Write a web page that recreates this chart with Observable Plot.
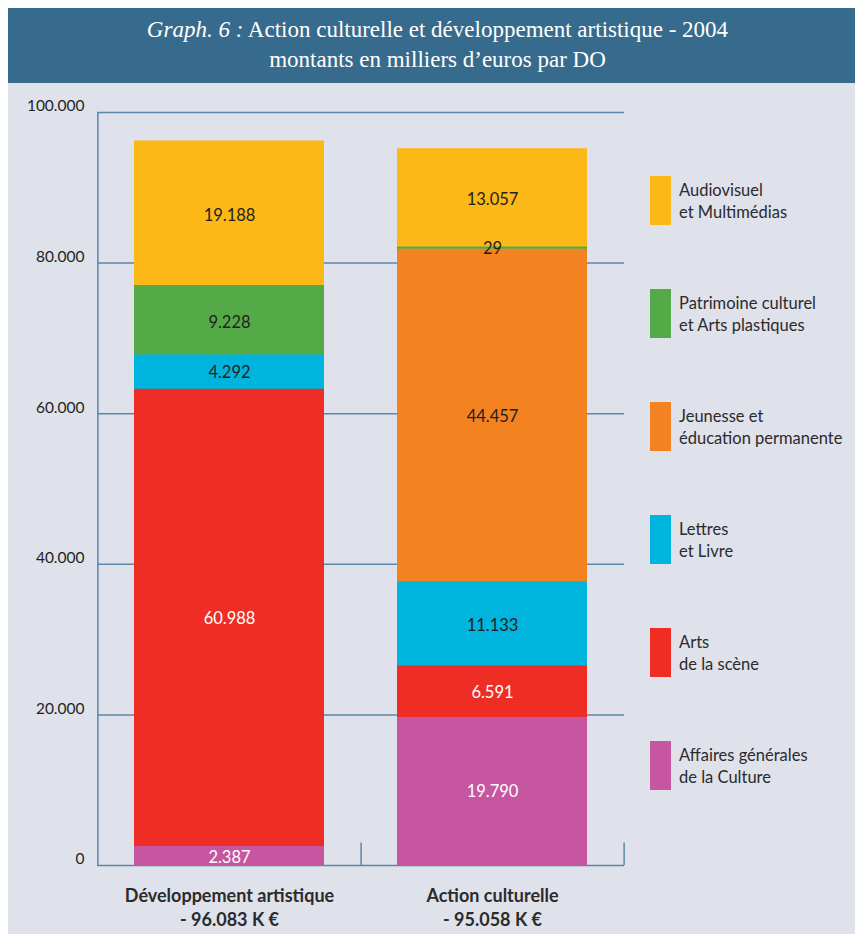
<!DOCTYPE html>
<html>
<head>
<meta charset="utf-8">
<script src="https://cdn.jsdelivr.net/npm/d3@7"></script>
<script src="https://cdn.jsdelivr.net/npm/@observablehq/plot@0.6"></script>
<style>
  html, body { margin: 0; padding: 0; background: #ffffff; }
  #panel { position: absolute; left: 8px; top: 8px; width: 847px; height: 926px; background: #dfe1eb; overflow: hidden; }
  #header { position: absolute; left: 0; top: 0; width: 847px; height: 75px; background: #376b8d; color: #fff;
            font-family: "Liberation Serif", "DejaVu Serif", serif; font-size: 23px; line-height: 30px;
            text-align: center; box-sizing: border-box; padding-top: 7px; padding-left: 12px; }
  #header i { font-style: italic; }
  #chart { position: absolute; left: 0; top: 75px; }
  #legend { position: absolute; left: 0; top: 0; }
  .item { position: absolute; left: 642px; }
  .sw { position: absolute; left: 0; top: 0; width: 21px; height: 49px; }
  .lab { position: absolute; left: 29px; top: 3px; white-space: nowrap; font-family: Lato, "Open Sans", sans-serif;
         font-size: 16.5px; line-height: 22px; color: #2b2b2b; }
</style>
</head>
<body>
<div id="panel">
  <div id="header"><i>Graph. 6 :</i> Action culturelle et développement artistique - 2004<br>montants en milliers d’euros par DO</div>
  <div id="chart"></div>
  <div id="legend"></div>
</div>
<script>
// ---- data ----
const groups = ["Développement artistique", "Action culturelle"];
const groupTotals = ["- 96.083 K €", "- 95.058 K €"];
// stacking order, bottom to top
const categories = [
  "Affaires générales de la Culture",
  "Arts de la scène",
  "Lettres et Livre",
  "Jeunesse et éducation permanente",
  "Patrimoine culturel et Arts plastiques",
  "Audiovisuel et Multimédias"
];
const legendLines = [
  ["Affaires générales", "de la Culture"],
  ["Arts", "de la scène"],
  ["Lettres", "et Livre"],
  ["Jeunesse et", "éducation permanente"],
  ["Patrimoine culturel", "et Arts plastiques"],
  ["Audiovisuel", "et Multimédias"]
];
const colors = ["#c656a0", "#ee2e24", "#00b5dd", "#f38321", "#55aa48", "#fcb817"];
const labelColors = ["#ffffff", "#ffffff", "#231f20", "#231f20", "#231f20", "#231f20"];
const devArtistique = [2387, 60988, 4292, 0, 9228, 19188];
const actionCulturelle = [19790, 6591, 11133, 44457, 29, 13057];
const yTicks = [0, 20000, 40000, 60000, 80000, 100000];

// ---- build table (drawn largest first so thin segments stay visible) ----
const seriesValues = [devArtistique, actionCulturelle];
const data = [];
groups.forEach((g, gi) => {
  categories.forEach((c, ci) => {
    data.push({group: g, cat: c, ci, value: seriesValues[gi][ci]});
  });
});
data.sort((a, b) => b.value - a.value);

const fmt = d3.formatLocale({decimal: ",", thousands: ".", grouping: [3], currency: ["", "€"]}).format(",d");

// ---- layout ----
const W = 847, H = 851;
const mL = 89, mR = 231, mT = 29, mB = 69;
const pInner = 0.278, pOuter = 0.14;
const step = (W - mL - mR) / (groups.length - pInner + 2 * pOuter);
const half = step / 2;
const gridColor = "#5d87a9";
const sans = "Lato, 'Open Sans', sans-serif";

const chart = Plot.plot({
  width: W,
  height: H,
  marginLeft: mL,
  marginRight: mR,
  marginTop: mT,
  marginBottom: mB,
  style: {background: "transparent", fontFamily: sans, color: "#231f20"},
  x: {domain: groups, paddingInner: pInner, paddingOuter: pOuter, label: null},
  y: {domain: [0, 100000], label: null},
  color: {domain: categories, range: colors},
  marks: [
    Plot.ruleY(yTicks, {stroke: gridColor, strokeWidth: 1.5}),
    Plot.ruleX([groups[0]], {x: d => d, y1: 0, y2: 100000, dx: -half, stroke: gridColor, strokeWidth: 1.5}),
    Plot.ruleX(groups, {x: d => d, y1: 0, y2: 3000, dx: half, stroke: gridColor, strokeWidth: 1.5}),
    Plot.barY(data, Plot.stackY({
      x: "group", y: "value", fill: "cat", order: categories,
      stroke: "cat", strokeWidth: 2, insetLeft: 1, insetRight: 1
    })),
    Plot.text(data.filter(d => d.value > 0), Plot.stackY({
      x: "group", y: "value", z: "cat", order: categories,
      text: d => fmt(d.value),
      fill: d => labelColors[d.ci],
      fontSize: 16.5, dy: 1
    })),
    Plot.axisY({
      ticks: yTicks, tickSize: 0, tickPadding: 13, tickFormat: d => fmt(d),
      fontSize: 15.5, dy: -6, fill: "#231f20", label: null
    }),
    Plot.axisX({
      tickSize: 0, tickPadding: 20,
      tickFormat: d => d + "\n" + groupTotals[groups.indexOf(d)],
      fontSize: 18, fontWeight: "bold", lineHeight: 1.3, fill: "#2b2b2b", label: null
    })
  ]
});
document.getElementById("chart").appendChild(chart);

// ---- legend (top to bottom = reverse of stacking) ----
const legend = document.getElementById("legend");
const order = categories.map((c, i) => i).reverse();
order.forEach((ci, k) => {
  const item = document.createElement("div");
  item.className = "item";
  item.style.top = (168 + 113 * k) + "px";
  const sw = document.createElement("div");
  sw.className = "sw";
  sw.style.background = colors[ci];
  const lab = document.createElement("div");
  lab.className = "lab";
  lab.innerHTML = legendLines[ci].join("<br>");
  item.appendChild(sw);
  item.appendChild(lab);
  legend.appendChild(item);
});
</script>
</body>
</html>
